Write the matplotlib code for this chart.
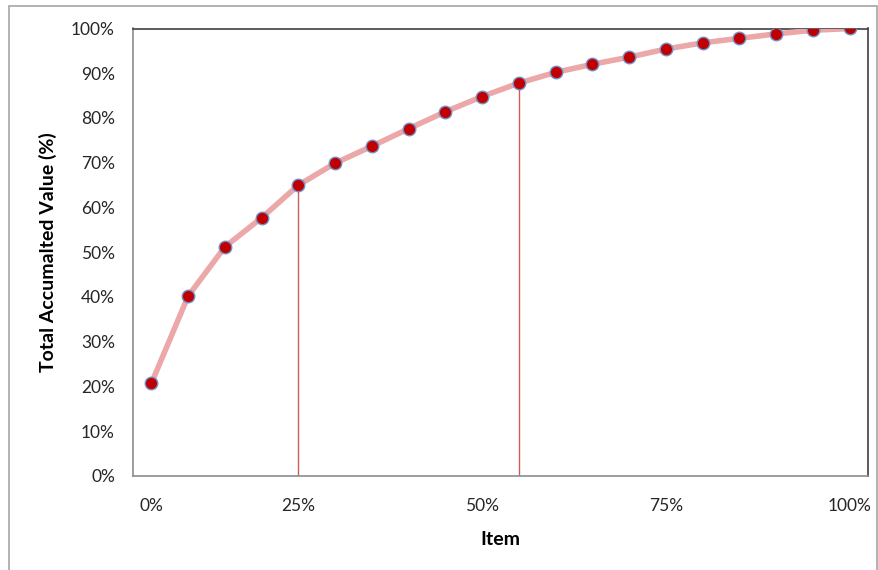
import matplotlib
matplotlib.use("Agg")
import matplotlib.pyplot as plt
from matplotlib.patches import Rectangle
from matplotlib.ticker import PercentFormatter

plt.rcParams['font.family'] = ['Lato', 'DejaVu Sans']

# Data
values = [20.7, 40.2, 51.2, 57.7, 65.0, 69.9, 73.7, 77.6, 81.4, 84.8,
          87.8, 90.2, 92.0, 93.6, 95.4, 96.8, 97.8, 98.8, 99.6, 100.0]
categories = list(range(len(values)))
tick_positions = [0, 4, 9, 14, 19]
tick_labels = ['0%', '25%', '50%', '75%', '100%']
marker_indices = [4, 10]
y_ticks = list(range(0, 101, 10))

W, H = 879, 570
fig = plt.figure(figsize=(W / 100, H / 100), dpi=100)
ax = fig.add_axes([133 / W, (H - 476) / H, (868 - 133) / W, (476 - 28.5) / H])

# Outer border
fig.patches.append(Rectangle((9 / W, -0.05), (877 - 9) / W, (H - 6) / H + 0.05,
                             transform=fig.transFigure, fill=False,
                             edgecolor='#a6a6a6', linewidth=1.2, clip_on=False))

# Vertical reference lines
for i in marker_indices:
    ax.plot([categories[i], categories[i]], [0, values[i]], color='#cd5c5c',
            linewidth=1.0, zorder=2)

ax.plot(categories, values, color='#eca8a8', linewidth=4, zorder=3,
        solid_capstyle='round')
ax.plot(categories, values, linestyle='none', marker='o', markersize=9,
        markerfacecolor='#c00000', markeredgecolor='#6f8fc8',
        markeredgewidth=1.0, zorder=4)

ax.set_xlim(-0.5, len(values) - 0.5)
ax.set_ylim(0, 100)
ax.set_yticks(y_ticks)
ax.yaxis.set_major_formatter(PercentFormatter(decimals=0))
ax.set_xticks(tick_positions)
ax.set_xticklabels(tick_labels)

ax.tick_params(axis='both', length=0, labelsize=12.5, labelcolor='#262626')
ax.tick_params(axis='y', pad=13)
ax.tick_params(axis='x', pad=16)

for s in ['left', 'bottom']:
    ax.spines[s].set_color('#8c8c8c')
    ax.spines[s].set_linewidth(1.2)
for s in ['top', 'right']:
    ax.spines[s].set_color('#404040')
    ax.spines[s].set_linewidth(1.2)

ax.set_xlabel('Item', fontsize=14, fontweight='bold', labelpad=12)
ax.set_ylabel('Total Accumalted Value (%)', fontsize=14, fontweight='bold', labelpad=10)

fig.savefig('out.png', dpi=100)
